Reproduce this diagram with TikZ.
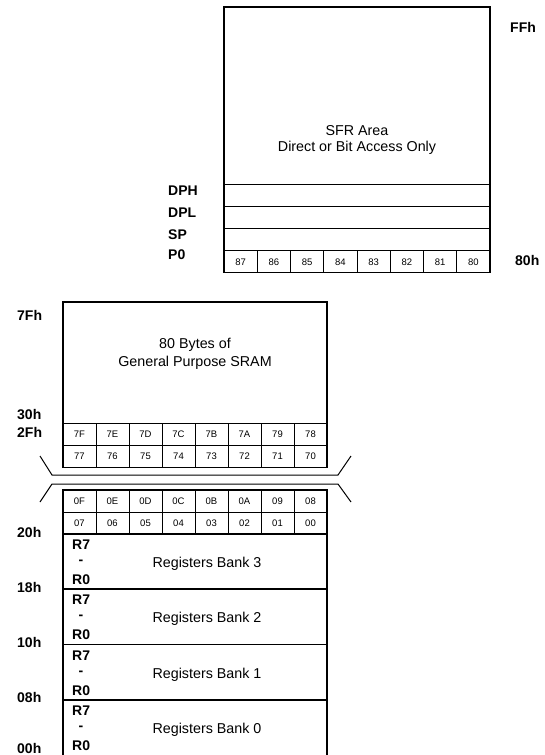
\documentclass[tikz,border=0pt]{standalone}
\usepackage{fontspec}
\setmainfont{Liberation Sans}
\begin{document}
\begin{tikzpicture}[x=1pt,y=-1pt,
  frame/.style={line width=1.5pt},
  thinline/.style={line width=1pt},
  addr/.style={font=\fontsize{14}{16}\selectfont\bfseries, inner sep=0pt, anchor=west},
  big/.style={font=\fontsize{14.3}{17}\selectfont, inner sep=0pt},
  cellt/.style={font=\fontsize{9.5}{11}\selectfont, inner sep=0pt},
  reg/.style={font=\fontsize{14}{16}\selectfont\bfseries, inner sep=0pt, anchor=west}]
\useasboundingbox (0,0) rectangle (545,755);
% ---------- SFR area ----------
\foreach \yy in {184,206,228.5,250.5} \draw[thinline] (224,\yy) -- (490,\yy);
\foreach \i in {1,...,7} \draw[thinline] ({224+33.25*\i},250.5) -- ({224+33.25*\i},272.7);
\draw[frame] (224,7) rectangle (490,272.7);
\foreach \t [count=\i] in {87,86,85,84,83,82,81,80}
  \node[cellt] (p\t) at ({224+33.25*(\i-0.5)},261.8) {\t};
\node[big] (sfr1) at (357,131) {SFR Area};
\node[big] (sfr2) at (357,148) {Direct or Bit Access Only};
\node[addr] (ffh) at (510,27) {FFh};
\node[addr] (h80) at (515,260) {80h};
\node[addr] (dph) at (168,191) {DPH};
\node[addr] (dpl) at (168,213) {DPL};
\node[addr] (sp) at (168,234.5) {SP};
\node[addr] (pz) at (168,255) {P0};
% ---------- General purpose RAM ----------
\foreach \yy in {423,445} \draw[thinline] (63,\yy) -- (327,\yy);
\foreach \i in {1,...,7} \draw[thinline] ({63+33*\i},423) -- ({63+33*\i},467.5);
\draw[frame] (63,302) rectangle (327,467.5);
\foreach \t [count=\i] in {7F,7E,7D,7C,7B,7A,79,78}
  \node[cellt] (c\t) at ({63+33*(\i-0.5)},434.3) {\t};
\foreach \t [count=\i] in {77,76,75,74,73,72,71,70}
  \node[cellt] (c\t) at ({63+33*(\i-0.5)},456.5) {\t};
\node[big] (gp1) at (195,345) {80 Bytes of};
\node[big] (gp2) at (195,363) {General Purpose SRAM};
% break marks
\draw[thinline] (40,456) -- (52,475) -- (338,475) -- (351,456);
\draw[thinline] (40,502) -- (52,484) -- (338,484) -- (351,502);
% ---------- Bit addressable + banks ----------
\draw[thinline] (63,512) -- (327,512);
\foreach \i in {1,...,7} \draw[thinline] ({63+33*\i},490) -- ({63+33*\i},534);
\foreach \yy in {534,589,644.5,700} \draw[frame] (63,\yy) -- (327,\yy);
\draw[frame] (63,760) -- (63,490) -- (327,490) -- (327,760);
\foreach \t [count=\i] in {0F,0E,0D,0C,0B,0A,09,08}
  \node[cellt] (c\t) at ({63+33*(\i-0.5)},501.2) {\t};
\foreach \t [count=\i] in {07,06,05,04,03,02,01,00}
  \node[cellt] (c\t) at ({63+33*(\i-0.5)},523.2) {\t};
\foreach \top/\n in {534/3,589/2,644.5/1,700/0}{
  \node[reg] (r7b\n) at (72,\top+11) {R7};
  \node[reg] (dashb\n) at (78.5,\top+28.5) {-};
  \node[reg] (r0b\n) at (72,\top+46) {R0};
  \node[big] (bank\n) at (207,\top+30) {Registers Bank \n};
}
% addresses on the left
\node[addr] (a7f) at (17,315) {7Fh};
\node[addr] (a30) at (17,415) {30h};
\node[addr] (a2f) at (17,432) {2Fh};
\node[addr] (a20) at (17,532) {20h};
\node[addr] (a18) at (17,587) {18h};
\node[addr] (a10) at (17,642) {10h};
\node[addr] (a08) at (17,697) {08h};
\node[addr] (a00) at (17,748) {00h};
\end{tikzpicture}
\end{document}
